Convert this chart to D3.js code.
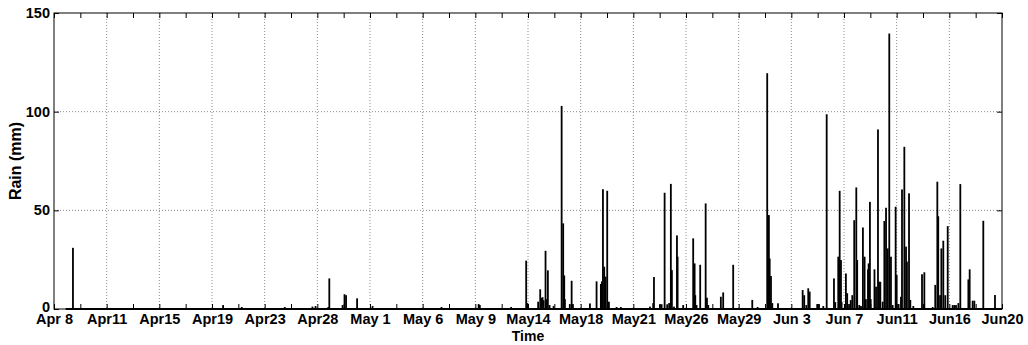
<!DOCTYPE html>
<html><head><meta charset="utf-8">
<script src="https://cdn.jsdelivr.net/npm/d3@7"></script>
<style>
html,body{margin:0;padding:0;background:#fff;}
svg text{font-family:"Liberation Sans",Arial,sans-serif;font-weight:bold;fill:#000;}
</style></head>
<body>
<svg id="chart" width="1028" height="345"></svg>
<script>
// Days elapsed since Apr 8 (00:00)
const days = [1.46,13.02,14.46,17.77,19.90,20.14,21.12,21.20,22.22,22.37,22.49,23.34,24.53,29.84,32.70,32.79,35.20,
36.36,36.45,37.28,37.44,37.54,37.62,37.70,37.85,37.95,38.03,38.16,38.47,39.09,39.21,39.29,39.34,39.72,39.86,39.96,
41.27,41.78,42.11,42.19,42.27,42.37,42.47,42.60,42.73,43.32,43.65,45.89,46.14,46.20,46.66,46.79,47.02,47.22,47.37,
47.50,47.58,47.74,47.97,48.02,48.45,49.22,49.33,49.38,49.48,49.76,50.18,50.28,50.38,51.35,51.53,52.30,53.77,54.18,
54.92,55.05,55.11,55.21,55.31,55.75,57.65,57.77,57.93,58.08,58.19,58.77,58.91,59.24,59.50,60.06,60.16,60.39,60.50,
60.60,60.65,60.98,61.08,61.22,61.35,61.47,61.62,61.78,61.85,62.01,62.14,62.29,62.42,62.52,62.68,62.73,62.83,62.89,
63.18,63.30,63.45,63.53,63.63,63.81,63.94,64.07,64.20,64.32,64.45,64.58,64.81,64.89,65.04,65.22,65.30,65.48,65.61,
65.68,65.84,65.94,66.17,66.84,67.02,67.66,67.86,68.02,68.09,68.23,68.33,68.48,68.63,68.82,69.20,69.33,69.46,69.64,
69.79,70.41,70.51,70.74,70.87,71.56,72.46];
// Rain (mm)
const rain = [31,2,1,1,1.2,1.5,1,15.5,2,7.5,7,5.4,1.5,1,2.5,2,1,
24.5,3,3.7,10,5.5,6,4.5,29.5,5,19.6,2,1.5,102.9,43.4,17,5,2.5,14.3,2.5,
2.8,14,12.7,14,60.7,21.4,16.4,59.9,3.7,1,1,1.2,3,16.2,2.4,2.4,58.9,2.4,3,
63.4,19.7,1.2,37.3,26.5,2,35.8,23.1,7,2,22.4,53.5,5.7,2,6.2,8.4,22.4,4.6,1,
119.5,47.6,25.6,16.7,3,2.9,9.6,7,2,10.5,8.8,2.5,2.5,1.5,98.7,15.5,3.5,26.5,59.9,
24.8,3.5,18,8,2.5,4.5,7,45,61.6,24.8,2,1.5,41.3,26.5,5,20.1,23.1,54.3,5,
20.1,11.3,91,13.8,13.8,3.7,44.6,51.3,30.7,139.6,26.5,2,51.8,17.2,2.5,6.2,60.6,82.2,31.6,
24,58.6,4.6,1.5,17.6,18.6,1,12.2,64.5,47,7,30.7,34.6,7,42,2,2,2,3,
63.3,15,20.1,4.2,4.2,44.7,7.1];
const xTickLabels = ["Apr 8","Apr11","Apr15","Apr19","Apr23","Apr28","May 1","May 6","May 9","May14","May18","May21","May26","May29","Jun 3","Jun 7","Jun11","Jun16","Jun20"];
const yTicks = [0,50,100,150];
const totalDays = 73;

const svg = d3.select("#chart");
const L = 54, R = 1002, T = 13, B = 309;
const x = d3.scaleLinear().domain([0,totalDays]).range([L,R]);
const y = d3.scaleLinear().domain([0,150]).range([B,T]);
const n = xTickLabels.length;
const xTickVals = xTickLabels.map((d,i)=> i*totalDays/(n-1));
const minorVals = d3.range(n-1).map(i=> (i+0.5)*totalDays/(n-1));

// grid
const g = svg.append("g");
g.selectAll("line.vg").data(xTickVals.slice(1,-1)).join("line")
  .attr("x1",d=>x(d)).attr("x2",d=>x(d)).attr("y1",T).attr("y2",B)
  .attr("stroke","#8a8a8a").attr("stroke-width",1).attr("stroke-dasharray","1,2");
g.selectAll("line.hg").data(yTicks.slice(1,-1)).join("line")
  .attr("x1",L).attr("x2",R).attr("y1",d=>y(d)).attr("y2",d=>y(d))
  .attr("stroke","#8a8a8a").attr("stroke-width",1).attr("stroke-dasharray","1,2");

// bars
svg.append("g").selectAll("rect").data(days.map((d,i)=>({d,v:rain[i]}))).join("rect")
  .attr("x",d=>x(d.d)-0.9).attr("width",1.8)
  .attr("y",d=>y(d.v)).attr("height",d=>y(0)-y(d.v))
  .attr("fill","#000");

// baseline
svg.append("line").attr("x1",x(0.9)).attr("x2",R).attr("y1",y(0)).attr("y2",y(0))
  .attr("stroke","#000").attr("stroke-width",2);

// axes (inward ticks)
const tl = 5;
const bottomAxis = d3.axisBottom(x).tickValues(xTickVals).tickFormat((d,i)=>xTickLabels[i]).tickSizeInner(-tl).tickSizeOuter(0).tickPadding(5);
const ax = svg.append("g").attr("transform",`translate(0,${B})`).call(bottomAxis);
ax.select(".domain").remove();
ax.selectAll("text").attr("font-size","14.5px").attr("font-family","Liberation Sans, Arial, sans-serif").attr("font-weight","bold");
const minorB = d3.axisBottom(x).tickValues(minorVals).tickFormat("").tickSizeInner(-tl).tickSizeOuter(0);
svg.append("g").attr("transform",`translate(0,${B})`).call(minorB).select(".domain").remove();
const topAxis = d3.axisTop(x).tickValues(xTickVals.concat(minorVals)).tickFormat("").tickSizeInner(-tl).tickSizeOuter(0);
svg.append("g").attr("transform",`translate(0,${T})`).call(topAxis).select(".domain").remove();

const leftAxis = d3.axisLeft(y).tickValues(yTicks).tickSizeInner(-tl).tickSizeOuter(0).tickPadding(4);
const ay = svg.append("g").attr("transform",`translate(${L},0)`).call(leftAxis);
ay.select(".domain").remove();
ay.selectAll("text").attr("font-size","14.5px").attr("font-family","Liberation Sans, Arial, sans-serif").attr("font-weight","bold")
  .attr("dy", d => d === 0 ? "0.15em" : "0.32em");
const rightAxis = d3.axisRight(y).tickValues(yTicks).tickFormat("").tickSizeInner(-tl).tickSizeOuter(0);
svg.append("g").attr("transform",`translate(${R},0)`).call(rightAxis).select(".domain").remove();

svg.selectAll(".tick line").attr("stroke","#000");

// frame
svg.append("rect").attr("x",L).attr("y",T).attr("width",R-L).attr("height",B-T)
  .attr("fill","none").attr("stroke","#000").attr("stroke-width",1);

// labels
svg.append("text").attr("x",(L+R)/2).attr("y",341).attr("text-anchor","middle")
  .attr("font-size","14px").text("Time");
svg.append("text").attr("transform",`translate(21,${(T+B)/2}) rotate(-90)`).attr("text-anchor","middle")
  .attr("font-size","16px").text("Rain (mm)");
</script>
</body></html>
